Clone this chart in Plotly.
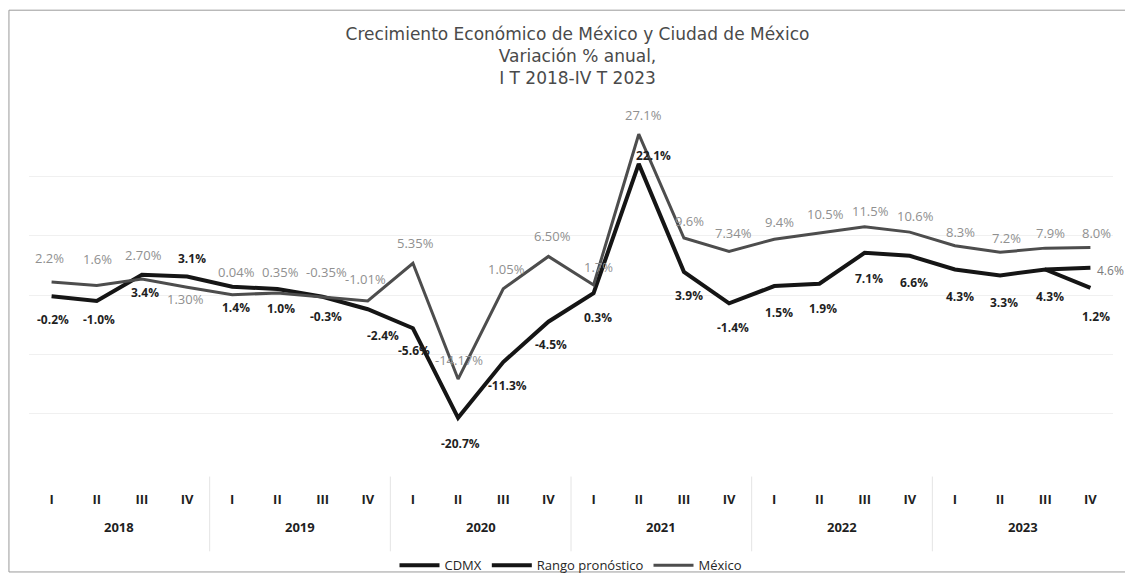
import plotly.graph_objects as go

# ---------------- data ----------------
years = ["2018", "2019", "2020", "2021", "2022", "2023"]
quarters = ["I", "II", "III", "IV"]

cdmx = [-0.2, -1.0, 3.4, 3.1, 1.4, 1.0, -0.3, -2.4,
        -5.6, -20.7, -11.3, -4.5, 0.3, 22.1, 3.9, -1.4,
        1.5, 1.9, 7.1, 6.6, 4.3, 3.3, 4.3, 1.2]
cdmx_labels = ["-0.2%", "-1.0%", "3.4%", "3.1%", "1.4%", "1.0%", "-0.3%", "-2.4%",
               "-5.6%", "-20.7%", "-11.3%", "-4.5%", "0.3%", "22.1%", "3.9%", "-1.4%",
               "1.5%", "1.9%", "7.1%", "6.6%", "4.3%", "3.3%", "4.3%", "1.2%"]

mexico = [2.2, 1.6, 2.70, 1.30, 0.04, 0.35, -0.35, -1.01,
          5.35, -14.17, 1.05, 6.50, 1.7, 27.1, 9.6, 7.34,
          9.4, 10.5, 11.5, 10.6, 8.3, 7.2, 7.9, 8.0]
mexico_labels = ["2.2%", "1.6%", "2.70%", "1.30%", "0.04%", "0.35%", "-0.35%", "-1.01%",
                 "5.35%", "-14.17%", "1.05%", "6.50%", "1.7%", "27.1%", "9.6%", "7.34%",
                 "9.4%", "10.5%", "11.5%", "10.6%", "8.3%", "7.2%", "7.9%", "8.0%"]

rango = [None] * 22 + [4.3, 4.6]
rango_labels = [None] * 23 + ["4.6%"]

# ---------------- styles (label offsets in px) ----------------
cdmx_xs = [1, 2, 3, 5, 4, 4, 3, 15, 1, 2, 4, 3, 4, 15, 5, 4, 5, 4, 4, 4, 5, 4, 5, 6]
cdmx_ys = [-23, -19, -18, 18, -21, -19, -20, -26, -22, -26, -23, -23, -24, 8,
           -24, -24, -26, -25, -26, -27, -27, -27, -27, -29]
mex_xs = [-2, 1, 2, -2, 4, 3, 4, -2, 3, 1, 3, 4, 5, 5, 6, 4, 5, 6, 6, 6, 6, 6, 5, 6]
mex_ys = [24, 27, 24, -12, 23, 21, 25, 22, 20, 19, 20, 20, 18, 19,
          17, 18, 17, 19, 16, 16, 14, 14, 15, 15]

n = len(cdmx)
xi = list(range(n))
FONT = "Open Sans"

fig = go.Figure()
fig.add_trace(go.Scatter(x=xi, y=cdmx, mode="lines", name="CDMX",
                         line=dict(color="#151515", width=4)))
fig.add_trace(go.Scatter(x=xi, y=rango, mode="lines", name="Rango pronóstico",
                         line=dict(color="#151515", width=4), connectgaps=False))
fig.add_trace(go.Scatter(x=xi, y=mexico, mode="lines", name="México",
                         line=dict(color="#4d4d4d", width=3)))

annotations = []
for i in range(n):
    annotations.append(dict(x=i, y=cdmx[i], xref="x", yref="y", text=cdmx_labels[i],
                            showarrow=False, xshift=cdmx_xs[i], yshift=cdmx_ys[i],
                            font=dict(family=FONT, size=12, color="#1f1f1f", weight="bold")))
    annotations.append(dict(x=i, y=mexico[i], xref="x", yref="y", text=mexico_labels[i],
                            showarrow=False, xshift=mex_xs[i], yshift=mex_ys[i],
                            font=dict(family=FONT, size=13, color="#909090")))
for i in range(n):
    if rango_labels[i]:
        annotations.append(dict(x=i, y=rango[i], xref="x", yref="y", text=rango_labels[i],
                                showarrow=False, xshift=20, yshift=-3,
                                font=dict(family=FONT, size=12, color="#7a7a7a")))

# year labels under the quarter ticks
for k, yr in enumerate(years):
    annotations.append(dict(x=k * 4 + 1.5, y=-0.152, xref="x", yref="paper", text=yr,
                            showarrow=False, yanchor="middle",
                            font=dict(family=FONT, size=13, color="#1f1f1f", weight="bold")))

shapes = []
for k in range(1, len(years)):
    shapes.append(dict(type="line", xref="x", yref="paper", x0=k * 4 - 0.5, x1=k * 4 - 0.5,
                       y0=-0.01, y1=-0.22, line=dict(color="#e4e4e4", width=1)))
# outer chart border
shapes.append(dict(type="rect", xref="paper", yref="paper", x0=-0.0185, x1=1.0138,
                   y0=-0.278, y1=1.3, line=dict(color="#9a9a9a", width=1)))

fig.update_layout(
    width=1133, height=578,
    margin=dict(l=21, r=28, t=109, b=113, autoexpand=False),
    paper_bgcolor="white", plot_bgcolor="white",
    title=dict(text="Crecimiento Económico de México y Ciudad de México<br>Variación % anual,<br>I T 2018-IV T 2023",
               x=0.506, xref="paper", xanchor="center", y=0.945, yref="container", yanchor="top",
               font=dict(family="DejaVu Sans", size=17, color="#4a4a4a")),
    xaxis=dict(range=[-0.5, n - 0.5], tickmode="array", tickvals=xi,
               ticktext=[q for _ in years for q in quarters], showgrid=False, zeroline=False,
               showline=False, ticks="outside", ticklen=14, tickcolor="rgba(0,0,0,0)",
               tickfont=dict(family=FONT, size=13, color="#1f1f1f", weight="bold")),
    yaxis=dict(range=[-30, 30], dtick=10, showticklabels=False, showgrid=True,
               gridcolor="#f0f0f0", zeroline=False),
    legend=dict(orientation="h", x=0.5, xanchor="center", xref="paper",
                y=0.036, yref="container", yanchor="middle",
                font=dict(family=FONT, size=13, color="#262626"), itemwidth=40,
                bgcolor="rgba(0,0,0,0)"),
    annotations=annotations,
    shapes=shapes,
    showlegend=True,
)

fig.write_html("out.html")
